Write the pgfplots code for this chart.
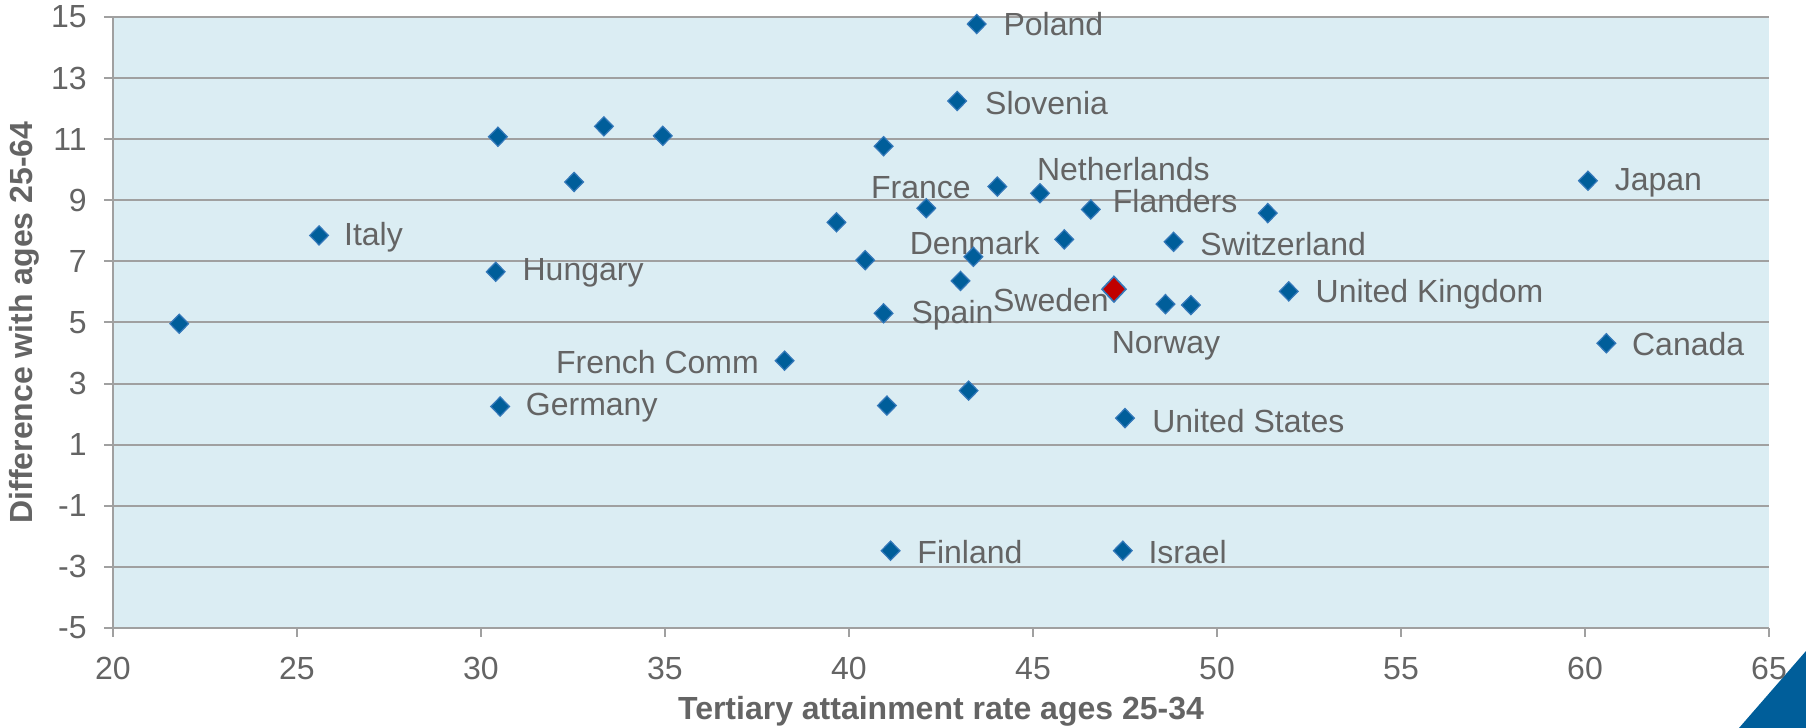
\documentclass[border=0pt]{standalone}
\usepackage{fontspec}
\setmainfont{Liberation Sans}
\usepackage{pgfplots}
\pgfplotsset{compat=1.18}
\definecolor{bgblue}{RGB}{219,237,243}
\definecolor{mblue}{RGB}{0,94,154}
\definecolor{mblueedge}{RGB}{52,120,185}
\definecolor{mred}{RGB}{192,0,0}
\definecolor{gridgray}{RGB}{160,160,160}
\definecolor{txtgray}{RGB}{100,100,100}
\tikzset{lbl/.style={font=\fontsize{16}{19}\selectfont, text=txtgray, inner sep=0pt}}
\begin{document}
\begin{tikzpicture}
\useasboundingbox (0,0) rectangle (903pt,364pt);
\fill[mblue] (869.5pt,0) -- (903pt,0) -- (903pt,38.5pt) -- cycle;
\begin{axis}[
  at={(56.5pt,50pt)}, anchor=south west,
  width=828pt, height=305.5pt, scale only axis,
  xmin=20, xmax=65, ymin=-5, ymax=15,
  xtick={20,25,...,65}, ytick={-5,-3,...,15},
  axis x line=bottom, axis y line=left,
  axis line style={gridgray, line width=1pt, -},
  ymajorgrids, grid style={gridgray, line width=1pt},
  tick style={gridgray, line width=1pt},
  major tick length=4.5pt, tick align=outside,
  axis background/.style={fill=bgblue},
  /pgf/number format/assume math mode=true,
  ticklabel style={font=\fontsize{16}{19}\selectfont, text=txtgray},
  yticklabel style={inner sep=0pt, anchor=east, xshift=-8.5pt},
  xticklabel style={inner sep=0pt, anchor=north, yshift=-10pt},
  xlabel={Tertiary attainment rate ages 25-34},
  ylabel={Difference with ages 25-64},
  label style={font=\fontsize{16}{19}\selectfont\bfseries, text=txtgray},
  xlabel style={at={(axis description cs:0.5,-0.1358)}, anchor=center},
  ylabel style={at={(axis description cs:-0.0537,0.5)}, anchor=center, rotate=0},
  clip=false,
]
\addplot[only marks, mark=diamond*, mark size=4.8pt, mark options={xscale=1.3, fill=mblue, draw=mblueedge, line width=0.6pt}] coordinates {
(21.8,4.96) (25.6,7.85) (30.46,11.08) (30.4,6.66) (30.52,2.25)
(32.53,9.6) (33.34,11.42) (34.94,11.11) (38.25,3.75) (39.66,8.28)
(40.44,7.04) (40.94,10.77) (40.94,5.3) (41.03,2.28) (41.13,-2.47)
(42.1,8.74) (43.03,6.36) (42.94,12.25) (43.47,14.77) (43.38,7.15)
(43.25,2.77) (44.03,9.45) (45.19,9.23) (45.85,7.72) (46.57,8.7)
(47.5,1.87) (47.44,-2.47) (48.6,5.6) (49.29,5.57) (48.82,7.64)
(51.38,8.58) (51.95,6.02) (60.08,9.64) (60.58,4.32)
};
\addplot[only marks, mark=diamond*, mark size=6.4pt, mark options={xscale=1.25, fill=mred, draw=mblueedge, line width=0.8pt}] coordinates {
(47.2,6.09)
};
\node[lbl, anchor=west] at (axis cs:44.19,14.77) {Poland};
\node[lbl, anchor=west] at (axis cs:43.69,12.17) {Slovenia};
\node[lbl, anchor=west] at (axis cs:45.1,10.02) {Netherlands};
\node[lbl, anchor=east] at (axis cs:43.32,9.42) {France};
\node[lbl, anchor=west] at (axis cs:47.16,8.99) {Flanders};
\node[lbl, anchor=west] at (axis cs:60.8,9.57) {Japan};
\node[lbl, anchor=west] at (axis cs:26.27,7.79) {Italy};
\node[lbl, anchor=east] at (axis cs:45.19,7.6) {Denmark};
\node[lbl, anchor=west] at (axis cs:49.54,7.57) {Switzerland};
\node[lbl, anchor=west] at (axis cs:31.12,6.62) {Hungary};
\node[lbl, anchor=west] at (axis cs:52.67,5.94) {United Kingdom};
\node[lbl, anchor=east] at (axis cs:47.07,5.72) {Sweden};
\node[lbl, anchor=west] at (axis cs:41.69,5.23) {Spain};
\node[lbl, anchor=west] at (axis cs:47.13,4.25) {Norway};
\node[lbl, anchor=west] at (axis cs:61.27,4.28) {Canada};
\node[lbl, anchor=east] at (axis cs:37.56,3.72) {French Comm};
\node[lbl, anchor=west] at (axis cs:31.21,2.21) {Germany};
\node[lbl, anchor=west] at (axis cs:48.23,1.79) {United States};
\node[lbl, anchor=west] at (axis cs:41.85,-2.51) {Finland};
\node[lbl, anchor=west] at (axis cs:48.13,-2.51) {Israel};
\end{axis}
\end{tikzpicture}
\end{document}
